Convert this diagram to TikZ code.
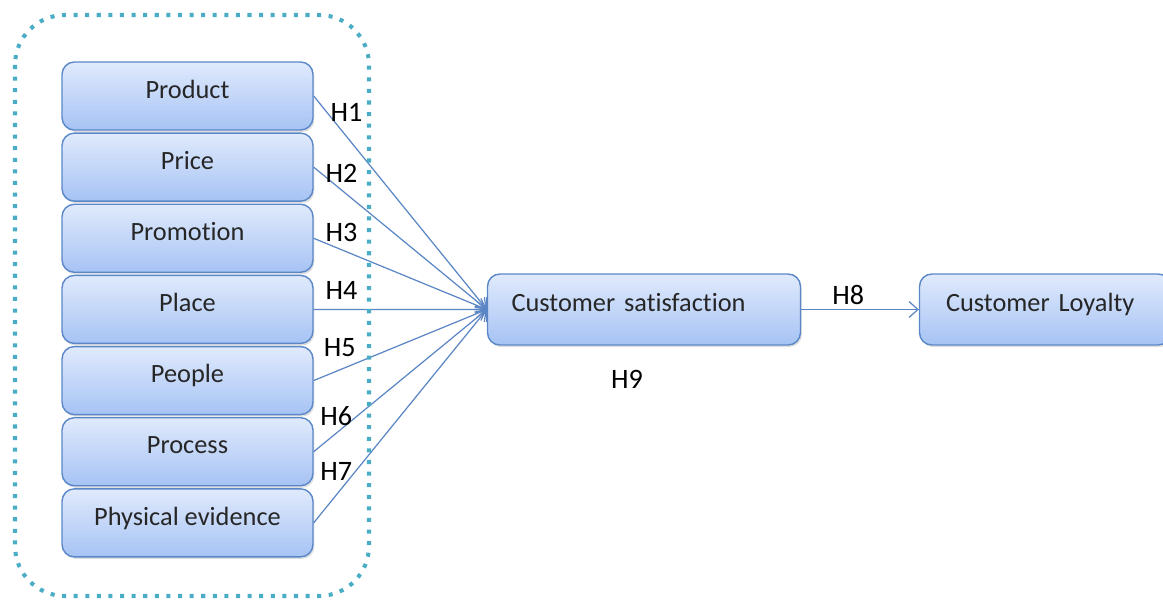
\documentclass[tikz,border=0pt]{standalone}
\usepackage{fontspec}
\setmainfont{Carlito}[Ligatures=CommonOff]
\usepackage{tikz}
\usetikzlibrary{arrows.meta,shadows,positioning}
\definecolor{boxline}{HTML}{5A87C8}
\definecolor{boxtop}{HTML}{E0EAFC}
\definecolor{boxbottom}{HTML}{A6C3F4}
\definecolor{linkblue}{HTML}{5B86C5}
\definecolor{framecol}{HTML}{4BACC6}

\begin{document}
\begin{tikzpicture}[x=0.02cm, y=-0.02cm]
% STYLES
\tikzset{%
    mix/.style={%
        rectangle, rounded corners=7pt, draw=boxline, line width=0.8pt,
        top color=boxtop, bottom color=boxbottom,
        drop shadow={opacity=0.25, shadow xshift=0.8pt, shadow yshift=-1.2pt},
        minimum width=5.02cm, minimum height=1.36cm, inner sep=0pt,
        text height=0.7em, text depth=0.45em,
        font=\fontsize{15}{17}\selectfont, text=black!85
    },
    outcome/.style={mix, align=left, inner xsep=0.48cm, minimum height=1.42cm},
    link/.style={linkblue, line width=0.7pt, -{Straight Barb[length=5pt,width=9pt]}},
    hyp/.style={font=\fontsize{16}{18}\selectfont, text=black}
}
\clip (0,0) rectangle (1163,601);
% Draw the marketing mix
\node [mix] (product) at (187.5,96) {Product};
\node [mix, below=0.035cm of product] (price) {Price};
\node [mix, below=0.035cm of price] (promotion) {Promotion};
\node [mix, below=0.035cm of promotion] (place) {Place};
\node [mix, below=0.035cm of place] (people) {People};
\node [mix, below=0.035cm of people] (process) {Process};
\node [mix, below=0.035cm of process] (physical) {Physical evidence};
% Draw the outcomes
\node [outcome, text width=5.3cm] (satisfaction) at (644,309.5) {Customer satisfaction};
\node [outcome, text width=3.96cm] (loyalty) at (1045,309.5) {Customer Loyalty};
\node [hyp, below=0.36cm of satisfaction, xshift=-0.34cm] (h9) {H9};
% Draw the links
\path[link]
    (product.east) edge node[hyp, pos=0.19, above=4.7pt] (h1) {H1} (satisfaction.west)
    (price.east) edge node[hyp, pos=0.16, above=0.7pt] (h2) {H2} (satisfaction.west)
    (promotion.east) edge node[hyp, pos=0.16, above=0.7pt] (h3) {H3} (satisfaction.west)
    (place.east) edge node[hyp, pos=0.16, above=1.7pt] (h4) {H4} (satisfaction.west)
    (people.east) edge node[hyp, pos=0.15, above=3.7pt] (h5) {H5} (satisfaction.west)
    (process.east) edge node[hyp, pos=0.13, above=0.7pt] (h6) {H6} (satisfaction.west)
    (physical.east) edge node[hyp, pos=0.13, above=4.7pt] (h7) {H7} (satisfaction.west);
\draw[link] (satisfaction.east) -- node[hyp, pos=0.4, above=-1pt] (h8) {H8} (loyalty.west);
% Dotted frame round the mix
\draw[framecol, line width=2.3pt, dash pattern=on 2.3pt off 4.3pt, rounded corners=1cm]
    (15,15) rectangle (369,596);
\end{tikzpicture}
\end{document}
